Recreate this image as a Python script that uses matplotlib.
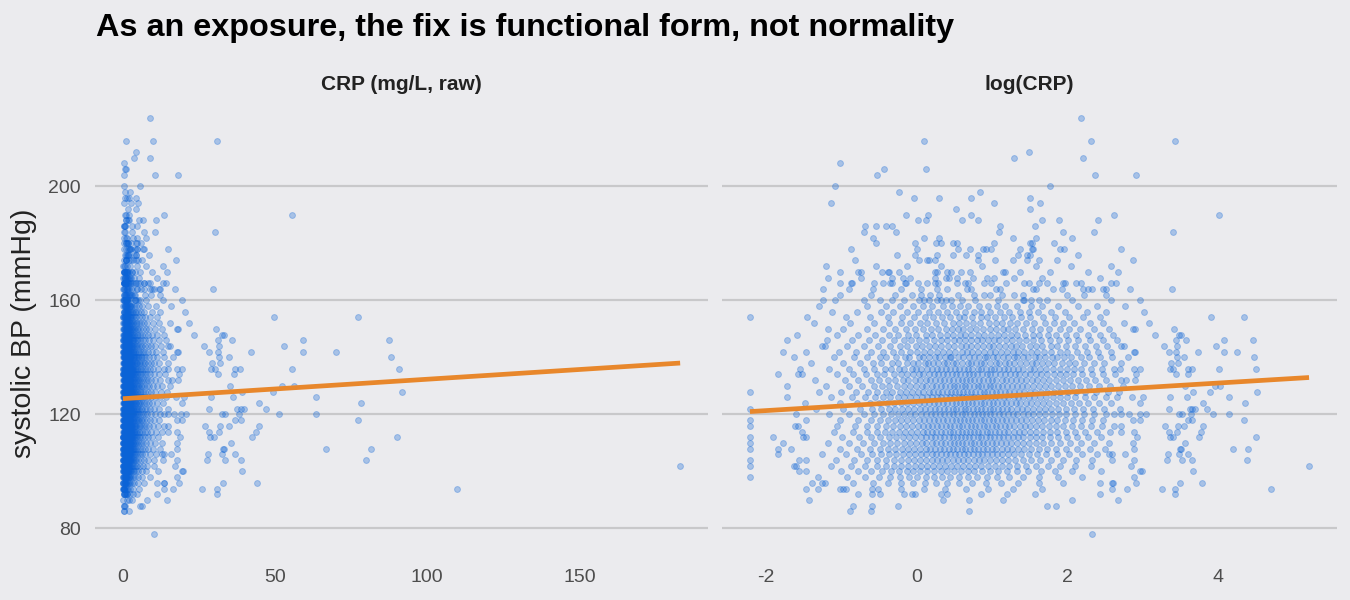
import numpy as np
import matplotlib
matplotlib.use("Agg")
import matplotlib.pyplot as plt

# ---------------- data ----------------
title = "As an exposure, the fix is functional form, not normality"
panel_titles = ["CRP (mg/L, raw)", "log(CRP)"]
y_label = "systolic BP (mmHg)"
y_ticks = [80, 120, 160, 200]
x_ticks_raw = [0, 50, 100, 150]
x_ticks_log = [-2, 0, 2, 4]

# fitted straight lines (intercept, slope)
raw_fit_intercept, raw_fit_slope = 125.5, 0.0683
log_fit_intercept, log_fit_slope = 124.55, 1.61

# systolic BP rows (mmHg) and the log(CRP) values of the points in each row
sbp_levels = [224, 216, 212, 210, 208, 206, 204, 200, 198, 196, 194, 192, 190, 188,
              186, 184, 182, 180, 178, 176, 174, 172, 170, 168, 166, 164, 162, 160,
              158, 156, 154, 152, 150, 148, 146, 144, 142, 140, 138, 136, 134, 132,
              130, 128, 126, 124, 122, 120, 118, 116, 114, 112, 110, 108, 106, 104,
              102, 100, 98, 96, 94, 92, 90, 88, 86, 78]

log_crp_rows = [
    [2.19],
    [0.10, 2.31, 3.43],
    [1.49],
    [1.29, 2.21],
    [-1.02],
    [0.12, -0.43],
    [-0.53, 2.37, 2.91],
    [-1.08, 1.77],
    [-0.23, 0.84],
    [-0.03, 0.30, 0.72, 1.51],
    [-1.14, 1.03, 1.64],
    [0.53, 1.51],
    [-0.14, 0.15, 0.73, 2.62, 4.02],
    [0.02, 0.13, 0.61, 0.82, 1.67, 1.89, 2.41],
    [-0.68, -0.54, -0.40, -0.33, 1.11, 1.57],
    [-0.69, -0.27, 1.10, 1.94, 2.36, 3.41],
    [-0.58, 0.10, 0.30, 1.28, 1.58, 2.06],
    [-0.54, -0.02, 0.26, 0.33, 0.49, 0.54, 1.03, 1.51, 1.53, 1.82],
    [-0.87, 0.01, 0.55, 0.71, 0.88, 0.92, 0.99, 1.38, 1.53, 1.54, 1.91, 1.96, 2.71],
    [-0.26, -0.02, 0.27, 0.49, 0.66, 0.82, 1.35, 1.47, 1.50, 2.15],
    [-0.82, 0.03, 0.14, 0.17, 0.24, 0.81, 1.04, 1.28, 1.47, 1.63, 1.86, 2.87],
    [-1.20, -0.54, -0.12, 0.33, 0.87, 1.59, 2.05, 2.58],
    [-1.02, -0.77, -0.73, -0.46, -0.38, -0.37, -0.23, 0.25, 0.27, 0.41, 0.46, 0.59,
     0.71, 1.15, 1.17, 1.38, 1.77, 2.28, 2.68],
    [-1.17, -0.73, -0.32, -0.18, -0.08, 0.25, 0.39, 0.43, 0.54, 0.75, 0.93, 1.03,
     1.30, 1.66, 2.43],
    [-1.02, -0.87, -0.85, -0.56, -0.44, -0.35, -0.33, -0.15, -0.14, 0.02, 0.14, 0.25,
     0.28, 0.54, 0.65, 0.69, 0.90, 0.99, 1.19, 1.43, 1.49, 1.62, 1.73, 1.95, 1.97,
     2.12, 2.19, 2.58, 2.65],
    [-1.24, -0.89, -0.58, -0.20, 0.06, 0.27, 0.40, 0.67, 0.73, 1.06, 1.11, 1.55, 1.59,
     1.81, 1.93, 2.21, 2.28, 2.33, 2.47, 2.51, 2.84, 3.39],
    [-1.02, -0.60, -0.29, -0.06, 0.06, 0.18, 0.30, 0.55, 0.76, 0.89, 0.98, 1.13, 1.30,
     1.41, 2.00, 2.22, 2.51],
    [-1.24, -1.08, -0.69, -0.48, -0.33, -0.16, 0.04, 0.10, 0.17, 0.27, 0.32, 0.39, 0.46,
     0.60, 0.78, 1.08, 1.43, 1.42, 1.52, 1.63, 1.73, 2.06, 2.58, 2.97],
    [-1.30, -0.65, -0.41, -0.22, -0.05, 0.08, 0.21, 0.35, 0.47, 0.58, 0.69, 0.83, 0.95,
     1.07, 1.18, 1.34, 1.52, 1.66, 1.88, 2.14, 2.39, 2.77],
    [-1.12, -0.79, -0.47, -0.31, -0.12, 0.02, 0.16, 0.29, 0.41, 0.52, 0.64, 0.77, 0.86,
     0.98, 1.11, 1.23, 1.37, 1.49, 1.61, 1.79, 1.97, 2.26, 2.52, 3.02],
    [-2.21, -1.45, -0.94, -0.62, -0.38, -0.19, -0.03, 0.11, 0.22, 0.34, 0.44, 0.56, 0.63,
     0.74, 0.85, 0.93, 1.04, 1.16, 1.27, 1.39, 1.51, 1.68, 1.84, 2.02, 2.21, 2.44, 3.91,
     4.35],
    [-1.36, -0.88, -0.57, -0.36, -0.21, -0.08, 0.05, 0.14, 0.26, 0.37, 0.48, 0.57, 0.66,
     0.75, 0.84, 0.96, 1.05, 1.13, 1.24, 1.33, 1.45, 1.56, 1.70, 1.82, 1.95, 2.09, 2.30,
     2.48, 2.75, 3.08],
    [-1.18, -0.97, -0.66, -0.45, -0.29, -0.14, -0.02, 0.09, 0.19, 0.28, 0.39, 0.47, 0.55,
     0.62, 0.71, 0.79, 0.88, 0.97, 1.06, 1.15, 1.22, 1.31, 1.42, 1.53, 1.64, 1.76, 1.90,
     2.03, 2.17, 2.36, 2.55, 2.88, 2.90, 3.42],
    [-1.58, -1.05, -0.78, -0.55, -0.37, -0.24, -0.11, 0.00, 0.12, 0.20, 0.31, 0.40, 0.49,
     0.58, 0.65, 0.73, 0.81, 0.90, 0.99, 1.08, 1.16, 1.25, 1.34, 1.44, 1.55, 1.63, 1.74,
     1.85, 1.98, 2.12, 2.27, 2.43, 2.61, 3.16, 3.49, 3.51],
    [-1.72, -1.19, -0.86, -0.63, -0.46, -0.30, -0.17, -0.07, 0.04, 0.13, 0.23, 0.32, 0.41,
     0.50, 0.57, 0.64, 0.72, 0.80, 0.87, 0.95, 1.03, 1.10, 1.19, 1.27, 1.36, 1.46, 1.54,
     1.65, 1.77, 1.89, 2.01, 2.15, 2.30, 2.47, 2.66, 3.45, 3.58, 4.08, 4.47],
    [-1.26, -1.21, -0.92, -0.70, -0.51, -0.35, -0.22, -0.12, -0.01, 0.07, 0.16, 0.25, 0.33,
     0.42, 0.50, 0.59, 0.66, 0.73, 0.80, 0.88, 0.96, 1.02, 1.09, 1.17, 1.25, 1.32, 1.40,
     1.50, 1.58, 1.67, 1.78, 1.87, 1.99, 2.11, 2.24, 2.38, 2.53, 2.71, 2.75, 3.29, 3.46,
     3.97],
    [-1.77, -1.47, -1.03, -0.80, -0.60, -0.44, -0.31, -0.20, -0.09, 0.01, 0.10, 0.18, 0.27,
     0.35, 0.43, 0.51, 0.60, 0.67, 0.74, 0.82, 0.89, 0.97, 1.04, 1.12, 1.20, 1.28, 1.35,
     1.43, 1.52, 1.60, 1.69, 1.79, 1.90, 2.00, 2.13, 2.26, 2.41, 2.58, 2.89, 2.90, 3.35,
     3.44, 3.74, 4.08, 4.25],
    [-1.63, -1.10, -0.83, -0.66, -0.49, -0.40, -0.27, -0.15, -0.10, 0.03, 0.08, 0.17, 0.24,
     0.30, 0.38, 0.45, 0.46, 0.55, 0.62, 0.70, 0.76, 0.83, 0.91, 0.94, 1.01, 1.07, 1.15,
     1.21, 1.29, 1.33, 1.41, 1.48, 1.57, 1.62, 1.71, 1.80, 1.86, 1.96, 2.05, 2.18, 2.29,
     2.44, 2.60, 2.81, 3.46, 3.55, 4.48],
    [-1.40, -0.98, -0.75, -0.58, -0.47, -0.33, -0.24, -0.13, -0.04, 0.02, 0.11, 0.15, 0.22,
     0.29, 0.36, 0.41, 0.48, 0.53, 0.61, 0.68, 0.72, 0.79, 0.86, 0.90, 0.97, 1.05, 1.10,
     1.18, 1.23, 1.30, 1.37, 1.45, 1.53, 1.59, 1.66, 1.75, 1.83, 1.93, 2.02, 2.11, 2.22,
     2.35, 2.49, 2.71, 3.38, 3.47],
    [-1.55, -1.16, -0.89, -0.70, -0.56, -0.42, -0.34, -0.23, -0.16, -0.06, 0.00, 0.06, 0.14,
     0.20, 0.27, 0.33, 0.39, 0.44, 0.51, 0.57, 0.63, 0.69, 0.74, 0.81, 0.85, 0.92, 0.99,
     1.03, 1.09, 1.16, 1.22, 1.28, 1.35, 1.42, 1.50, 1.56, 1.64, 1.72, 1.81, 1.91, 2.00,
     2.09, 2.19, 2.31, 2.46, 2.62, 2.70, 2.89, 2.97, 3.37, 3.41, 3.61, 3.65, 4.02, 4.51],
    [-1.84, -1.57, -1.52, -1.05, -0.84, -0.67, -0.52, -0.43, -0.30, -0.21, -0.12, -0.05,
     0.04, 0.09, 0.16, 0.23, 0.29, 0.35, 0.40, 0.47, 0.52, 0.58, 0.64, 0.70, 0.75, 0.80,
     0.87, 0.93, 0.98, 1.04, 1.11, 1.17, 1.24, 1.31, 1.36, 1.44, 1.51, 1.58, 1.65, 1.73,
     1.82, 1.90, 1.99, 2.08, 2.20, 2.33, 2.47, 2.63, 2.92, 3.45, 3.60],
    [-1.35, -0.95, -0.77, -0.61, -0.50, -0.38, -0.29, -0.18, -0.11, -0.02, 0.05, 0.12, 0.18,
     0.25, 0.31, 0.37, 0.43, 0.49, 0.55, 0.60, 0.66, 0.71, 0.77, 0.83, 0.88, 0.95, 1.00,
     1.06, 1.13, 1.19, 1.26, 1.32, 1.39, 1.46, 1.53, 1.60, 1.68, 1.76, 1.85, 1.94, 2.04,
     2.14, 2.25, 2.37, 2.52, 2.71, 2.78, 2.90],
    [-1.72, -1.20, -0.90, -0.72, -0.57, -0.46, -0.36, -0.26, -0.17, -0.09, -0.01, 0.07, 0.13,
     0.20, 0.26, 0.32, 0.38, 0.44, 0.50, 0.54, 0.60, 0.65, 0.70, 0.76, 0.82, 0.86, 0.92,
     0.97, 1.02, 1.08, 1.14, 1.20, 1.27, 1.33, 1.40, 1.47, 1.55, 1.62, 1.70, 1.79, 1.88,
     1.97, 2.07, 2.17, 2.29, 2.42, 2.57, 2.74, 3.56, 3.96, 4.03],
    [-2.21, -1.30, -1.00, -0.80, -0.64, -0.53, -0.41, -0.32, -0.22, -0.14, -0.06, 0.02, 0.09,
     0.16, 0.22, 0.28, 0.34, 0.40, 0.46, 0.51, 0.57, 0.62, 0.67, 0.73, 0.78, 0.84, 0.89,
     0.94, 1.00, 1.05, 1.11, 1.17, 1.23, 1.30, 1.36, 1.43, 1.50, 1.57, 1.65, 1.73, 1.82,
     1.91, 2.01, 2.12, 2.24, 2.38, 2.54, 2.69, 3.67, 3.90, 4.52],
    [-1.72, -1.13, -0.86, -0.68, -0.55, -0.44, -0.35, -0.25, -0.16, -0.08, 0.00, 0.07, 0.14,
     0.20, 0.27, 0.33, 0.39, 0.45, 0.50, 0.56, 0.61, 0.66, 0.72, 0.77, 0.82, 0.88, 0.93,
     0.99, 1.04, 1.10, 1.16, 1.22, 1.29, 1.35, 1.42, 1.49, 1.56, 1.64, 1.72, 1.81, 1.90,
     2.00, 2.11, 2.23, 2.36, 2.51, 2.66, 2.86, 3.01, 3.37, 3.59, 4.15],
    [-1.48, -1.02, -0.79, -0.62, -0.50, -0.39, -0.30, -0.21, -0.13, -0.05, 0.03, 0.10, 0.16,
     0.23, 0.29, 0.35, 0.41, 0.47, 0.52, 0.58, 0.63, 0.68, 0.74, 0.79, 0.85, 0.90, 0.96,
     1.01, 1.07, 1.13, 1.19, 1.25, 1.32, 1.38, 1.45, 1.52, 1.60, 1.68, 1.76, 1.85, 1.95,
     2.05, 2.16, 2.28, 2.42, 2.58, 2.97, 3.80, 4.36],
    [-2.21, -1.33, -0.97, -0.75, -0.59, -0.47, -0.37, -0.28, -0.19, -0.11, -0.03, 0.05, 0.11,
     0.18, 0.24, 0.30, 0.36, 0.42, 0.48, 0.53, 0.59, 0.64, 0.69, 0.75, 0.80, 0.86, 0.91,
     0.97, 1.02, 1.08, 1.14, 1.20, 1.26, 1.33, 1.40, 1.47, 1.54, 1.62, 1.70, 1.79, 1.88,
     1.98, 2.09, 2.21, 2.34, 2.49, 2.70, 3.35, 3.63, 3.66, 3.69, 3.85],
    [-1.60, -1.16, -0.89, -0.70, -0.56, -0.45, -0.34, -0.25, -0.17, -0.09, -0.02, 0.06, 0.12,
     0.19, 0.25, 0.31, 0.37, 0.43, 0.49, 0.54, 0.60, 0.65, 0.71, 0.76, 0.81, 0.87, 0.92,
     0.98, 1.03, 1.09, 1.15, 1.21, 1.28, 1.34, 1.41, 1.48, 1.55, 1.63, 1.71, 1.80, 1.89,
     1.99, 2.10, 2.22, 2.36, 2.52, 2.62, 2.71, 2.82, 2.96, 3.04, 3.49, 3.52, 3.64, 3.94,
     4.15],
    [-2.21, -1.47, -1.01, -0.78, -0.61, -0.49, -0.38, -0.29, -0.20, -0.12, -0.04, 0.04, 0.10,
     0.17, 0.23, 0.29, 0.35, 0.41, 0.47, 0.52, 0.58, 0.63, 0.69, 0.74, 0.79, 0.85, 0.90,
     0.96, 1.01, 1.07, 1.13, 1.19, 1.25, 1.32, 1.39, 1.46, 1.53, 1.61, 1.69, 1.78, 1.87,
     1.97, 2.08, 2.20, 2.33, 2.48, 2.88, 2.97, 3.61, 3.66, 4.35],
    [-2.21, -1.61, -1.57, -1.06, -0.82, -0.65, -0.52, -0.41, -0.31, -0.22, -0.14, -0.06, 0.02,
     0.08, 0.15, 0.21, 0.27, 0.33, 0.39, 0.45, 0.50, 0.56, 0.61, 0.67, 0.72, 0.78, 0.83,
     0.89, 0.94, 1.00, 1.05, 1.11, 1.17, 1.23, 1.30, 1.37, 1.44, 1.51, 1.59, 1.67, 1.76,
     1.85, 1.95, 2.06, 2.18, 2.31, 2.46, 2.62, 2.71, 3.30, 3.47, 3.55, 3.80],
    [-1.52, -1.09, -0.84, -0.66, -0.53, -0.42, -0.32, -0.23, -0.15, -0.07, 0.01, 0.08, 0.14,
     0.20, 0.26, 0.32, 0.38, 0.44, 0.49, 0.55, 0.60, 0.66, 0.71, 0.76, 0.82, 0.87, 0.93,
     0.98, 1.04, 1.10, 1.16, 1.22, 1.29, 1.36, 1.43, 1.51, 1.59, 1.68, 1.77, 1.87, 1.98,
     2.10, 2.24, 2.40, 2.57, 2.71, 2.89, 3.35, 3.46, 3.78],
    [-2.21, -1.90, -1.50, -1.47, -0.99, -0.76, -0.60, -0.48, -0.37, -0.27, -0.18, -0.10,
     -0.02, 0.06, 0.12, 0.19, 0.25, 0.31, 0.37, 0.43, 0.48, 0.54, 0.59, 0.65, 0.70, 0.75,
     0.81, 0.86, 0.92, 0.97, 1.03, 1.09, 1.15, 1.21, 1.28, 1.35, 1.42, 1.50, 1.58, 1.67,
     1.77, 1.88, 2.00, 2.13, 2.28, 2.45, 2.93, 3.36, 3.40, 3.75, 4.50],
    [-2.21, -1.77, -1.18, -0.90, -0.71, -0.57, -0.45, -0.35, -0.26, -0.17, -0.09, -0.01,
     0.07, 0.13, 0.20, 0.26, 0.32, 0.38, 0.44, 0.50, 0.55, 0.61, 0.66, 0.72, 0.77, 0.83,
     0.88, 0.94, 1.00, 1.06, 1.12, 1.19, 1.26, 1.33, 1.41, 1.49, 1.58, 1.68, 1.79, 1.91,
     2.04, 2.19, 2.36, 2.55, 2.88, 3.57],
    [-2.21, -1.84, -1.66, -1.02, -0.79, -0.62, -0.49, -0.38, -0.28, -0.19, -0.11, -0.03,
     0.05, 0.12, 0.18, 0.25, 0.31, 0.37, 0.43, 0.49, 0.54, 0.60, 0.65, 0.71, 0.76, 0.82,
     0.88, 0.94, 1.00, 1.06, 1.13, 1.20, 1.27, 1.35, 1.43, 1.52, 1.62, 1.73, 1.85, 1.98,
     2.13, 2.30, 2.50, 2.89, 3.50, 3.51, 4.20, 4.40],
    [-1.84, -1.25, -0.94, -0.74, -0.59, -0.47, -0.36, -0.27, -0.18, -0.10, -0.02, 0.06, 0.13,
     0.20, 0.26, 0.33, 0.39, 0.45, 0.51, 0.57, 0.63, 0.69, 0.75, 0.81, 0.87, 0.93, 1.00,
     1.07, 1.14, 1.22, 1.30, 1.39, 1.49, 1.60, 1.72, 1.86, 2.02, 2.20, 2.40, 2.56, 2.60,
     2.77, 3.34, 3.49, 3.61],
    [-2.21, -1.56, -1.47, -1.07, -0.83, -0.66, -0.52, -0.40, -0.30, -0.20, -0.11, -0.03,
     0.05, 0.13, 0.20, 0.27, 0.34, 0.41, 0.48, 0.55, 0.62, 0.69, 0.76, 0.83, 0.90, 0.97,
     1.05, 1.13, 1.22, 1.31, 1.41, 1.52, 1.64, 1.78, 1.94, 2.12, 2.33, 2.59, 2.89, 3.32,
     3.52, 3.66, 4.38],
    [-2.21, -1.63, -1.60, -1.14, -0.87, -0.68, -0.53, -0.41, -0.30, -0.20, -0.11, -0.02,
     0.06, 0.14, 0.22, 0.30, 0.38, 0.46, 0.54, 0.62, 0.70, 0.78, 0.86, 0.95, 1.04, 1.13,
     1.23, 1.34, 1.46, 1.59, 1.74, 1.91, 2.10, 2.32, 2.85, 5.21],
    [-1.56, -1.47, -1.00, -0.77, -0.60, -0.46, -0.34, -0.23, -0.13, -0.04, 0.05, 0.14, 0.23,
     0.32, 0.41, 0.50, 0.59, 0.68, 0.77, 0.87, 0.97, 1.08, 1.20, 1.33, 1.48, 1.65, 1.84,
     2.06, 2.45, 2.97, 2.99, 3.67],
    [-2.21, -1.31, -0.92, -0.68, -0.50, -0.35, -0.22, -0.10, 0.01, 0.12, 0.23, 0.34, 0.45,
     0.56, 0.68, 0.80, 0.93, 1.07, 1.23, 1.41, 1.62, 1.88, 2.20, 2.89],
    [-1.39, -1.25, -1.22, -0.84, -0.58, -0.38, -0.20, -0.04, 0.11, 0.26, 0.41, 0.57, 0.74,
     0.92, 1.12, 1.35, 1.62, 1.95, 2.44, 2.60, 2.61, 2.92, 3.50, 3.79],
    [-1.47, -1.31, -1.02, -0.98, -0.94, -0.59, -0.51, -0.20, 0.10, 0.38, 0.66, 0.95, 1.28,
     1.66, 2.60, 2.80, 3.26, 3.43, 4.70],
    [-0.78, -0.59, -0.48, -0.16, -0.06, -0.02, 0.33, 0.41, 0.85, 1.20, 1.57, 2.44, 3.43],
    [-1.43, 0.35, 0.70, 1.15, 2.07, 2.68],
    [-0.84, -0.59, -0.25, 1.73, 1.85],
    [-0.88, -0.60, 0.70],
    [2.33],
]

# ---------------- build flat arrays ----------------
sbp = np.concatenate([[lvl] * len(vals) for lvl, vals in zip(sbp_levels, log_crp_rows)]).astype(float)
log_crp = np.concatenate([np.asarray(v, float) for v in log_crp_rows])
crp = np.exp(log_crp)

# ---------------- styling ----------------
BG = "#EBEBEE"
GRID = "#C8C8CA"
PT = "#0B63D6"
LINE = "#E8872B"
TXT = "#4D4D4D"
plt.rcParams["font.family"] = ["Liberation Sans", "DejaVu Sans"]

fig = plt.figure(figsize=(13.5, 6.0), dpi=100, facecolor=BG)

panel_bottom = 45 / 600
panel_height = 458 / 600
ax1 = fig.add_axes([95 / 1350, panel_bottom, 613 / 1350, panel_height])
ax2 = fig.add_axes([722 / 1350, panel_bottom, 615 / 1350, panel_height])


def expand(lo, hi, f=0.05):
    d = (hi - lo) * f
    return lo - d, hi + d


ylim = expand(sbp.min(), sbp.max())

panels = [
    (ax1, crp, raw_fit_intercept, raw_fit_slope, x_ticks_raw, panel_titles[0]),
    (ax2, log_crp, log_fit_intercept, log_fit_slope, x_ticks_log, panel_titles[1]),
]

for ax, x, b0, b1, xt, ttl in panels:
    ax.set_facecolor(BG)
    for s in ax.spines.values():
        s.set_visible(False)
    ax.scatter(x, sbp, s=18, color=PT, alpha=0.3, linewidths=0.7,
               edgecolors=PT, zorder=2)
    xs = np.array([x.min(), x.max()])
    ax.plot(xs, b0 + b1 * xs, color=LINE, lw=3.4, solid_capstyle="butt", zorder=3)
    ax.set_xlim(*expand(x.min(), x.max()))
    ax.set_ylim(*ylim)
    ax.set_xticks(xt)
    ax.set_xticklabels([str(t) for t in xt])
    ax.set_yticks(y_ticks)
    ax.grid(axis="y", color=GRID, lw=1.6, zorder=0)
    ax.grid(axis="x", visible=False)
    ax.set_axisbelow(True)
    ax.tick_params(length=0, labelsize=14, labelcolor=TXT, pad=10)
    ax.set_title(ttl, fontsize=15, fontweight="bold", color="#222222", pad=5)

ax1.set_yticklabels([str(t) for t in y_ticks])
ax1.tick_params(axis="y", pad=10)
ax2.set_yticklabels([])

fig.text(96 / 1350, 1 - 36 / 600, title, fontsize=23.3, fontweight="bold",
         color="black", ha="left", va="baseline")
fig.text(24 / 1350, 1 - 333 / 600, y_label, fontsize=20.5, color="#222222",
         rotation=90, ha="center", va="center")

fig.savefig("out.png", dpi=100, facecolor=BG)
